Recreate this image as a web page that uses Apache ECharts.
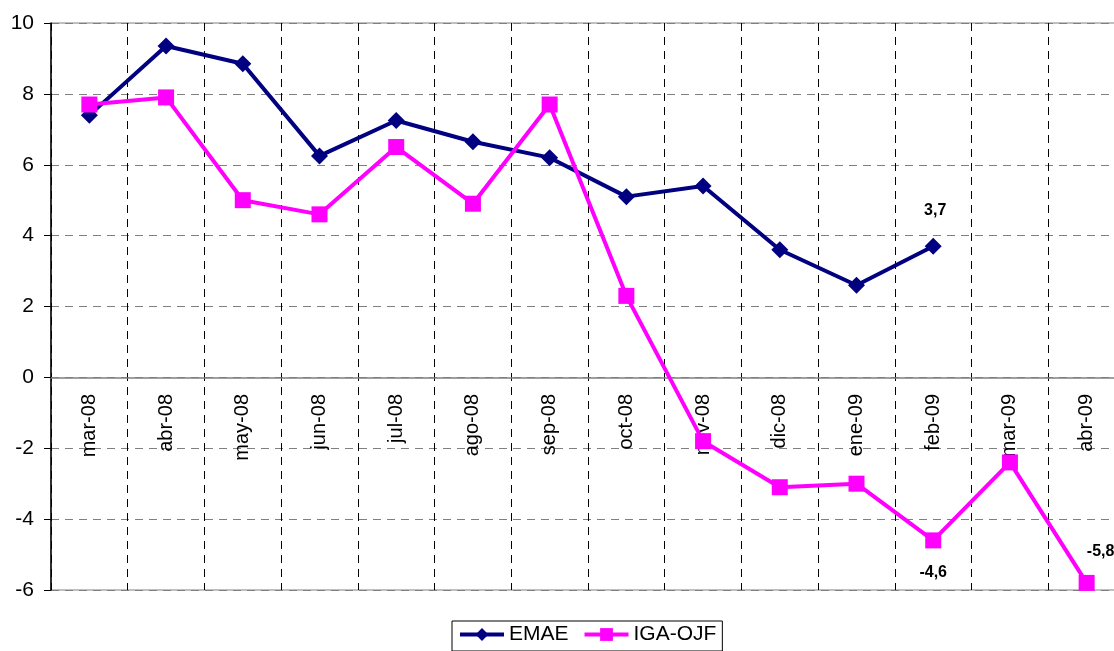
<!DOCTYPE html>
<html>
<head>
<meta charset="utf-8">
<script src="https://cdn.jsdelivr.net/npm/echarts@6/dist/echarts.min.js"></script>
<style>
  html, body { margin: 0; padding: 0; background: #fff; }
  #main { width: 1114px; height: 651px; }
</style>
</head>
<body>
<div id="main"></div>
<script>
var months = ['mar-08', 'abr-08', 'may-08', 'jun-08', 'jul-08', 'ago-08', 'sep-08',
  'oct-08', 'nov-08', 'dic-08', 'ene-09', 'feb-09', 'mar-09', 'abr-09'];
var emae = [7.4, 9.35, 8.85, 6.25, 7.25, 6.65, 6.2, 5.1, 5.4, 3.6, 2.6, 3.7, null, null];
var iga = [7.7, 7.9, 5.0, 4.6, 6.5, 4.9, 7.7, 2.3, -1.8, -3.1, -3.0, -4.6, -2.4, -5.8];

var chart = echarts.init(document.getElementById('main'));

function lbl(pos, off) {
  return {
    show: true, position: pos, offset: off,
    fontFamily: 'Liberation Sans', fontWeight: 'bold', fontSize: 16, color: '#000',
    formatter: function (p) { return String(p.value).replace('.', ','); }
  };
}

var emaeData = emae.map(function (v, i) {
  if (i === 11) return { value: v, label: lbl('top', [2, -14]) };
  return v;
});
var igaData = iga.map(function (v, i) {
  if (i === 11) return { value: v, label: lbl('bottom', [0, 11]) };
  if (i === 13) return { value: v, label: lbl('top', [14, -10]) };
  return v;
});

chart.setOption({
  animation: false,
  textStyle: { fontFamily: 'Liberation Sans' },
  grid: {
    left: 51, top: 23, width: 1074, height: 567,
    outerBoundsMode: 'none', containLabel: false,
    show: true, borderColor: '#808080', borderWidth: 1
  },
  legend: {
    left: 452, top: 621,
    borderColor: '#000', borderWidth: 1,
    padding: [3, 6, 6, 6],
    itemWidth: 44, itemHeight: 16, itemGap: 14,
    lineStyle: { width: 4 },
    textStyle: { fontSize: 21, color: '#000', fontFamily: 'Liberation Sans' },
    data: ['EMAE', 'IGA-OJF']
  },
  xAxis: {
    type: 'category',
    data: months,
    boundaryGap: true,
    offset: -212,
    axisLine: { onZero: false, lineStyle: { color: '#808080', width: 1.5 } },
    axisTick: { show: false },
    axisLabel: { rotate: 90, fontSize: 20, color: '#000', margin: 16, interval: 0 },
    splitLine: { show: true, interval: 0, lineStyle: { color: '#000', type: [8, 6], width: 1 } }
  },
  yAxis: {
    type: 'value',
    min: -6, max: 10, interval: 2,
    axisLine: { show: true, lineStyle: { color: '#000', width: 1.5 } },
    axisTick: { show: true, length: 7, lineStyle: { color: '#000' } },
    axisLabel: { fontSize: 21, color: '#000', margin: 17 },
    splitLine: { show: true, lineStyle: { color: '#808080', type: [8, 6], width: 1 } }
  },
  series: [
    {
      name: 'EMAE', type: 'line', data: emaeData,
      symbol: 'diamond', symbolSize: 17,
      lineStyle: { color: '#000080', width: 4 },
      itemStyle: { color: '#000080' },
      z: 3
    },
    {
      name: 'IGA-OJF', type: 'line', data: igaData,
      symbol: 'rect', symbolSize: 16,
      lineStyle: { color: '#FF00FF', width: 4 },
      itemStyle: { color: '#FF00FF' },
      z: 4
    }
  ]
});
</script>
</body>
</html>
